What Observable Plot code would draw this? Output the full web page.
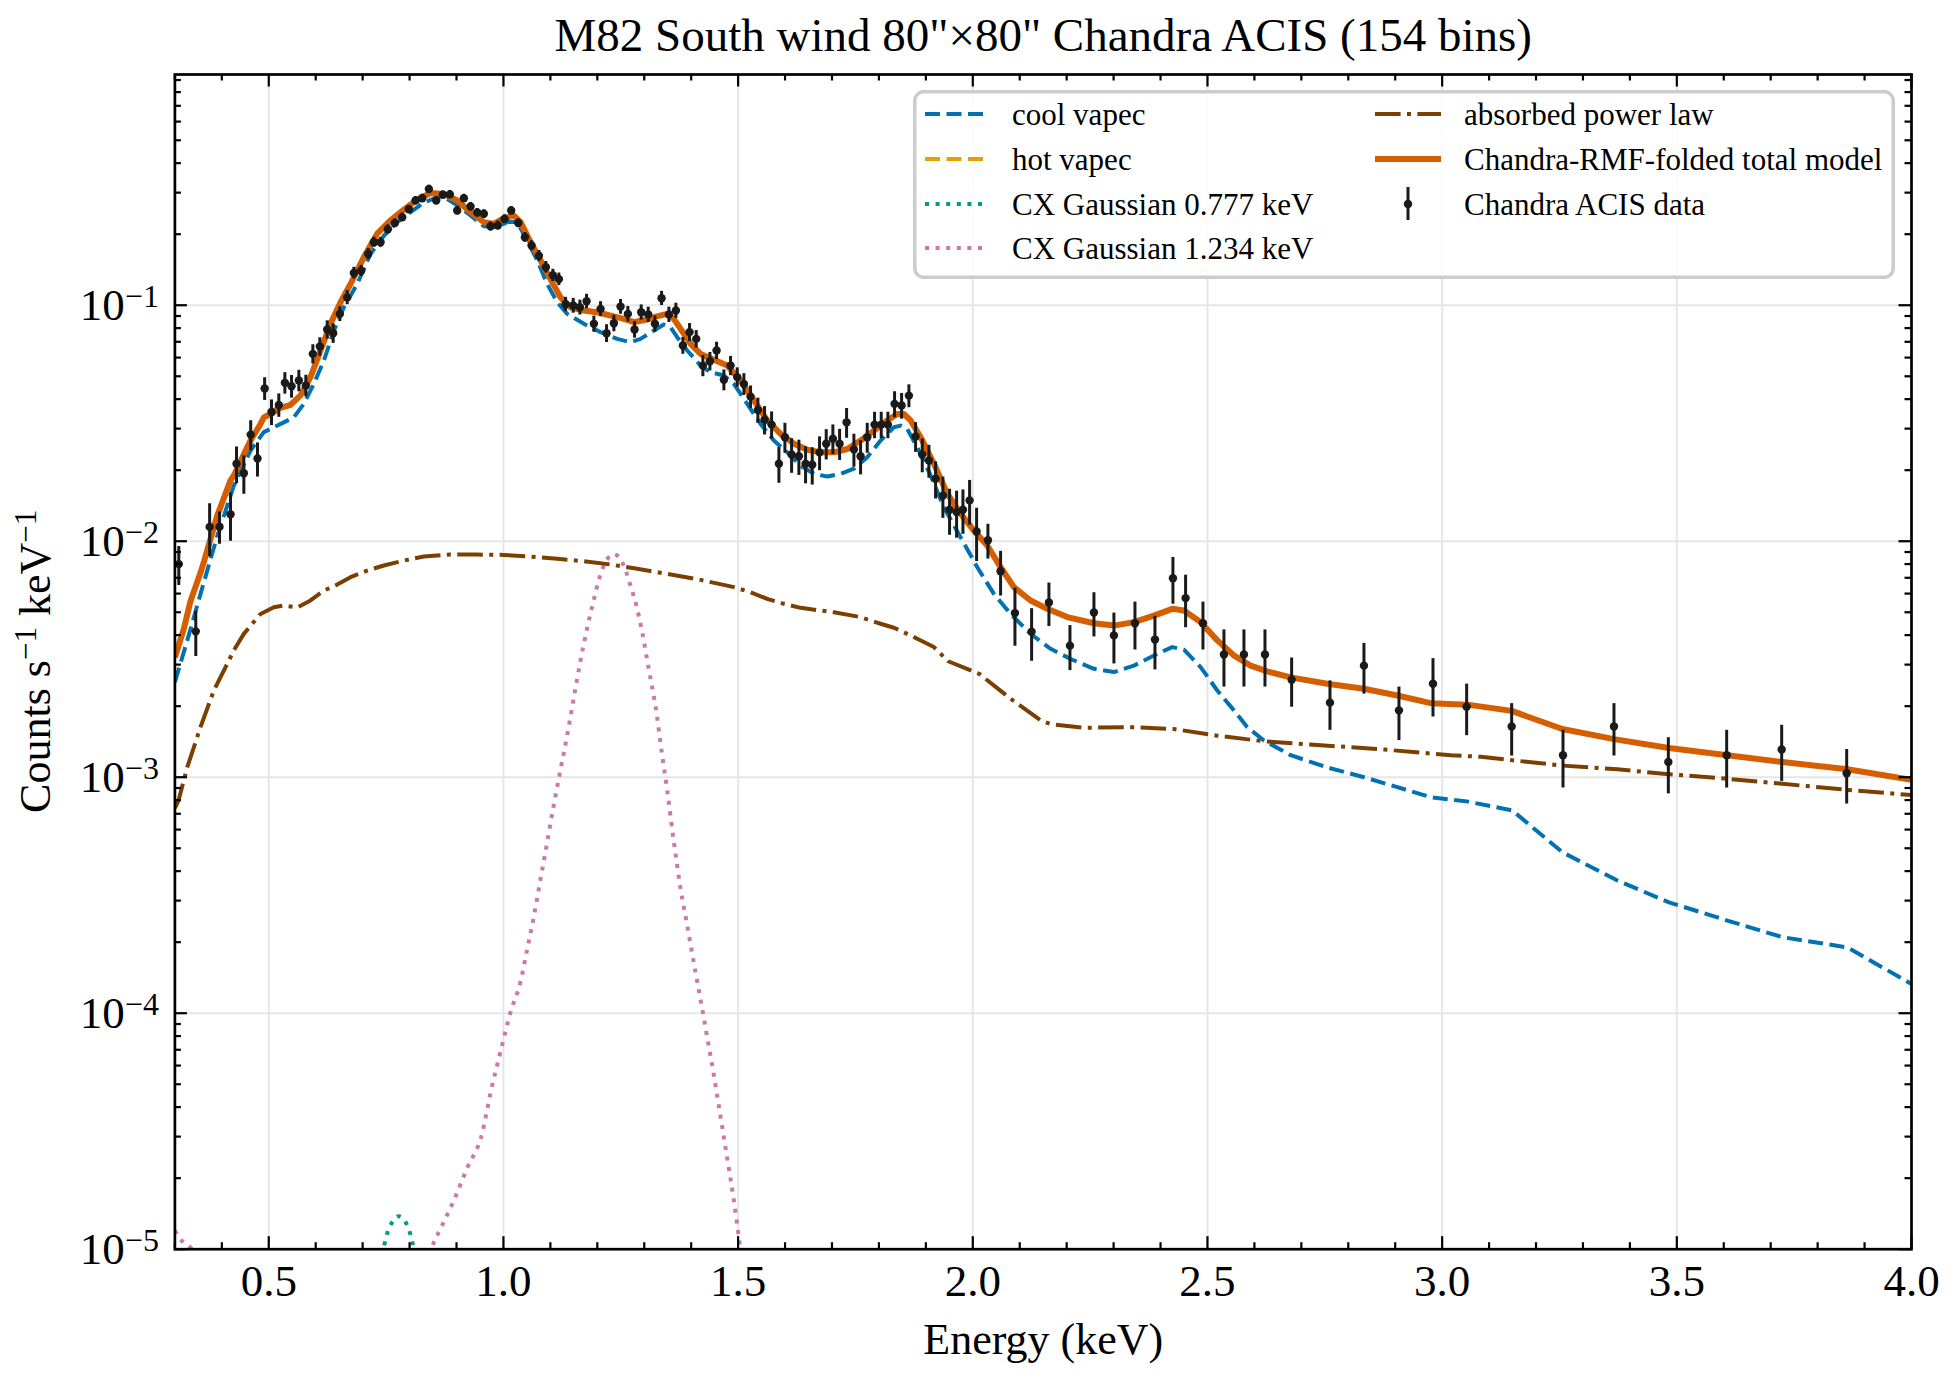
<!DOCTYPE html>
<html>
<head>
<meta charset="utf-8">
<script src="https://cdn.jsdelivr.net/npm/d3@7"></script>
<script src="https://cdn.jsdelivr.net/npm/@observablehq/plot@0.6"></script>
<style>
  html, body { margin: 0; padding: 0; background: #fff; }
  #chart { width: 1955px; height: 1380px; }
  #chart svg { display: block; }
</style>
</head>
<body>
<div id="chart"></div>
<script>
// ---------------- spectrum: grouped Chandra ACIS bins ----------------
const binEnergy = [
  0.3083,0.3445,0.3740,0.3950,0.4185,0.4313,0.4469,0.4615,0.4760,0.4912,
  0.5058,0.5214,0.5343,0.5485,0.5641,0.5790,0.5939,0.6088,0.6245,0.6372,
  0.6514,0.6671,0.6813,0.6969,0.7118,0.7239,0.7381,0.7537,0.7686,0.7843,
  0.7985,0.8127,0.8269,0.8411,0.8567,0.8709,0.8858,0.9015,0.9157,0.9299,
  0.9441,0.9583,0.9725,0.9881,1.0023,1.0165,1.0315,1.0457,1.0599,1.0755,
  1.0904,1.1053,1.1181,1.1323,1.1486,1.1629,1.1771,1.1927,1.2069,1.2197,
  1.2353,1.2495,1.2651,1.2793,1.2935,1.3085,1.3227,1.3369,1.3525,1.3674,
  1.3823,1.3965,1.4107,1.4249,1.4399,1.4541,1.4697,1.4839,1.4981,1.5123,
  1.5265,1.5421,1.5563,1.5713,1.5869,1.5997,1.6139,1.6295,1.6437,1.6579,
  1.6735,1.6877,1.7019,1.7162,1.7311,1.7467,1.7609,1.7751,1.7907,1.8049,
  1.8191,1.8333,1.8483,1.8639,1.8781,1.8923,1.9065,1.9207,1.9363,1.9505,
  1.9655,1.9790,1.9932,2.0081,2.0322,2.0592,2.0898,2.1253,2.1622,2.2070,
  2.2581,2.3007,2.3455,2.3881,2.4264,2.4534,2.4904,2.5351,2.5777,2.6225,
  2.6793,2.7610,2.8334,2.9080,2.9805,3.0522,3.1481,3.2575,3.3661,3.4819,
  3.6062,3.7234,3.8619
];
const binRate = [
  0.0080,0.00415,0.0115,0.0115,0.0130,0.0213,0.0194,0.0283,0.0224,0.0444,
  0.0353,0.0378,0.0469,0.0454,0.0480,0.0457,0.0622,0.0668,0.0789,0.0761,
  0.0919,0.108,0.137,0.140,0.165,0.185,0.185,0.210,0.223,0.236,
  0.255,0.278,0.284,0.311,0.278,0.294,0.295,0.252,0.284,0.262,
  0.247,0.244,0.216,0.218,0.232,0.252,0.223,0.194,0.179,0.162,
  0.145,0.134,0.129,0.101,0.0997,0.098,0.104,0.0834,0.0965,0.0761,
  0.0839,0.0987,0.0919,0.0789,0.0934,0.0913,0.0834,0.1071,0.0913,0.0950,
  0.0675,0.0769,0.0720,0.0555,0.0579,0.0643,0.0483,0.0555,0.0496,0.0464,
  0.0410,0.0360,0.0327,0.0312,0.0213,0.0276,0.0233,0.0229,0.0213,0.0211,
  0.0238,0.0259,0.0272,0.0259,0.0319,0.0245,0.0229,0.0276,0.0312,0.0312,
  0.0312,0.0382,0.0376,0.0414,0.0278,0.0233,0.0220,0.0184,0.0156,0.0136,
  0.0133,0.0136,0.0149,0.0110,0.0101,0.00746,0.00496,0.00414,0.00550,0.00361,
  0.00499,0.00399,0.00449,0.00383,0.00697,0.00574,0.00449,0.00331,0.00331,0.00331,
  0.00259,0.00207,0.00297,0.00192,0.00249,0.00199,0.00164,0.00124,0.00164,0.00116,
  0.00124,0.00131,0.00104
];
const binError = [
  0.0015,0.0009,0.0029,0.0018,0.0030,0.0038,0.0036,0.0041,0.0037,0.0049,
  0.0044,0.0043,0.0049,0.0050,0.0050,0.0048,0.0058,0.0060,0.0070,0.0072,
  0.0066,0.0074,0.0078,0.0075,0.0089,0.0090,0.0088,0.0092,0.0095,0.0097,
  0.0103,0.0108,0.0110,0.0115,0.0108,0.0112,0.0112,0.0104,0.0110,0.0106,
  0.0102,0.0101,0.0095,0.0095,0.0098,0.0102,0.0096,0.0092,0.0088,0.0086,
  0.0082,0.0080,0.0079,0.0070,0.0072,0.0071,0.0073,0.0066,0.0070,0.0066,
  0.0067,0.0071,0.0069,0.0064,0.0069,0.0068,0.0065,0.0074,0.0068,0.0070,
  0.0055,0.0067,0.0061,0.0057,0.0052,0.0054,0.0049,0.0052,0.0047,0.0049,
  0.0045,0.0044,0.0045,0.0041,0.0037,0.0040,0.0039,0.0039,0.0038,0.0038,
  0.0039,0.0038,0.0039,0.0039,0.0046,0.0039,0.0038,0.0040,0.0040,0.0040,
  0.0040,0.0048,0.0047,0.0046,0.0040,0.0038,0.0035,0.0033,0.0031,0.0030,
  0.0030,0.0029,0.0032,0.0028,0.0017,0.0016,0.00137,0.00104,0.00115,0.00078,
  0.00106,0.00097,0.00103,0.00098,0.00156,0.00144,0.00103,0.00090,0.00090,0.00090,
  0.00061,0.00049,0.00072,0.00049,0.00069,0.00049,0.00041,0.00034,0.00041,0.00031,
  0.00034,0.00035,0.00027
];

// ---------------- model components (counts s^-1 keV^-1) ----------------
const totalEnergy = [
  0.300,0.319,0.333,0.355,0.362,0.390,0.4185,0.4256,0.454,0.4611,
  0.4824,0.4895,0.5108,0.5179,0.5463,0.5676,0.5889,0.6103,0.6316,0.6529,
  0.6742,0.7026,0.7310,0.7594,0.7878,0.8162,0.8447,0.8731,0.9015,0.9299,
  0.9583,0.9796,1.0009,1.0222,1.0364,1.0577,1.0790,1.1003,1.1216,1.1430,
  1.1714,1.1998,1.2282,1.2566,1.2779,1.3063,1.3205,1.3489,1.3631,1.3774,
  1.3987,1.4200,1.4484,1.4768,1.5052,1.5336,1.5620,1.5904,1.6189,1.6473,
  1.6757,1.7041,1.7325,1.7609,1.7893,1.8177,1.8390,1.8532,1.8675,1.8888,
  1.9172,1.9456,1.9740,2.0024,2.0308,2.0592,2.0876,2.1231,2.1587,2.2013,
  2.2581,2.3007,2.3433,2.3859,2.4250,2.4499,2.4854,2.5209,2.5564,2.5919,
  2.6274,2.6772,2.7553,2.8334,2.9044,2.9755,3.0536,3.1481,3.2561,3.3662,
  3.4833,3.6077,3.7249,3.8634,4.0
];
const totalRate = [
  0.00322,0.00425,0.00555,0.00740,0.00820,0.0128,0.0181,0.0190,0.0250,0.0267,
  0.0314,0.0335,0.0352,0.0364,0.0378,0.0415,0.0496,0.0643,0.0834,0.103,
  0.123,0.160,0.201,0.229,0.254,0.280,0.299,0.296,0.278,0.248,
  0.225,0.221,0.234,0.240,0.225,0.185,0.155,0.129,0.108,0.098,
  0.095,0.0934,0.0904,0.0876,0.0848,0.0870,0.0890,0.0919,0.0876,0.0794,
  0.0686,0.0622,0.0587,0.0555,0.0480,0.0395,0.0325,0.0285,0.0259,0.0244,
  0.0238,0.0238,0.0246,0.0267,0.0294,0.0325,0.0346,0.0346,0.0325,0.0276,
  0.0213,0.0159,0.0131,0.0111,0.00959,0.00776,0.00639,0.00561,0.00517,0.00477,
  0.00449,0.00439,0.00454,0.00484,0.00517,0.00509,0.00454,0.00380,0.00328,0.00297,
  0.00281,0.00265,0.00249,0.00237,0.00222,0.00206,0.00203,0.00191,0.00160,0.00145,
  0.00133,0.00124,0.00116,0.00108,0.000975
];

const coolEnergy = [
  0.300,0.3262,0.3546,0.3901,0.4256,0.4611,0.4895,0.5108,0.5321,0.5534,
  0.5747,0.5960,0.6174,0.6387,0.6600,0.6884,0.7168,0.7452,0.7736,0.8020,
  0.8304,0.8588,0.8801,0.9015,0.9299,0.9583,0.9867,1.0080,1.0293,1.0506,
  1.0719,1.0932,1.1146,1.1359,1.1714,1.2069,1.2424,1.2708,1.2921,1.3205,
  1.3418,1.3560,1.3702,1.3916,1.4200,1.4413,1.4697,1.4910,1.5194,1.5478,
  1.5762,1.6046,1.6331,1.6615,1.6899,1.7183,1.7467,1.7751,1.8035,1.8319,
  1.8461,1.8603,1.8817,1.9101,1.9385,1.9740,2.0095,2.0450,2.0805,2.1231,
  2.1658,2.2084,2.2581,2.3007,2.3433,2.3859,2.4250,2.4499,2.4854,2.5209,
  2.5564,2.5848,2.6203,2.6772,2.7553,2.8334,2.9044,2.9755,3.0522,3.1495,
  3.2561,3.3733,3.4833,3.6077,3.7249,3.8634,4.0
];
const coolRate = [
  0.00253,0.00379,0.00598,0.0105,0.0172,0.0242,0.0290,0.0304,0.0319,0.0335,
  0.0382,0.0464,0.0583,0.0781,0.0981,0.123,0.165,0.197,0.225,0.248,
  0.272,0.287,0.282,0.265,0.240,0.216,0.214,0.225,0.225,0.188,
  0.155,0.123,0.103,0.0919,0.0834,0.0769,0.0720,0.0697,0.0720,0.0781,
  0.0828,0.0807,0.0732,0.0643,0.0555,0.0520,0.0504,0.0464,0.0382,0.0314,
  0.0267,0.0238,0.0209,0.0193,0.0188,0.0193,0.0203,0.0227,0.0267,0.0304,
  0.0309,0.0299,0.0250,0.0190,0.0139,0.0104,0.00776,0.00598,0.00492,0.00405,
  0.00350,0.00317,0.00288,0.00279,0.00297,0.00328,0.00356,0.00347,0.00293,0.00233,
  0.00192,0.00163,0.00143,0.00124,0.00110,0.00100,0.000908,0.000823,0.000790,0.000723,
  0.000481,0.000365,0.000295,0.000247,0.000210,0.000190,0.000133
];

const powerEnergy = [
  0.300,0.308,0.3262,0.3545,0.383,0.4114,0.4256,0.4468,0.4824,0.5108,
  0.5321,0.5605,0.5889,0.6174,0.6458,0.6742,0.7097,0.7452,0.7878,0.8304,
  0.8873,0.9441,1.0009,1.0577,1.1146,1.1714,1.2282,1.2850,1.3489,1.4200,
  1.4910,1.5265,1.5620,1.5975,1.6331,1.7041,1.7609,1.8035,1.8319,1.8461,
  1.8817,1.9172,1.9476,2.014,2.0805,2.1466,2.1658,2.2368,2.3433,2.4286,
  2.5209,2.6203,2.7340,2.8760,3.0181,3.0820,3.1495,3.2561,3.3733,3.4833,
  3.6077,3.7249,3.8634,4.0
];
const powerRate = [
  0.00074,0.00080,0.00110,0.00163,0.00233,0.00302,0.00345,0.00405,0.00492,0.00525,
  0.00534,0.00524,0.00561,0.00618,0.00655,0.00704,0.00751,0.00789,0.00828,0.00861,
  0.00878,0.00878,0.00875,0.00861,0.00842,0.00823,0.00797,0.00764,0.00727,0.00686,
  0.00639,0.00608,0.00570,0.00543,0.00522,0.00500,0.00477,0.00447,0.00430,0.00418,
  0.00386,0.00356,0.00310,0.00274,0.00215,0.00173,0.00168,0.00162,0.00163,0.00160,
  0.00150,0.00142,0.00137,0.00131,0.00124,0.00122,0.00118,0.00112,0.00108,0.00103,
  0.000985,0.000938,0.000884,0.000840
];

const cx777Energy = [0.735,0.744,0.753,0.764,0.777,0.7845,0.7984,0.8056,0.812];
const cx777Rate = [8.5e-6,1.0e-5,1.18e-5,1.31e-5,1.38e-5,1.36e-5,1.21e-5,1.08e-5,9.0e-6];

const cx1234Energy = [
  0.300,0.309,0.336,0.350,0.840,0.8483,0.866,0.8943,0.9228,0.9548,
  0.9725,0.9938,1.0151,1.0364,1.0507,1.0648,1.079,1.0933,1.1074,1.1217,
  1.1359,1.150,1.1643,1.1785,1.1926,1.2054,1.2353,1.2531,1.2708,1.285,
  1.2957,1.3098,1.3241,1.3384,1.349,1.3631,1.3773,1.3916,1.4057,1.420,
  1.4342,1.4482,1.4626,1.4769,1.4909,1.5016,1.510
];
const cx1234Rate = [
  1.2e-5,1.12e-5,1.0e-5,9.0e-6,8.8e-6,1.02e-5,1.22e-5,1.61e-5,2.21e-5,3.11e-5,
  4.6e-5,6.88e-5,1.01e-4,1.36e-4,1.87e-4,2.57e-4,3.70e-4,5.32e-4,7.66e-4,1.08e-3,
  1.51e-3,2.18e-3,3.13e-3,4.30e-3,5.65e-3,7.10e-3,8.82e-3,8.13e-3,6.48e-3,5.16e-3,
  4.11e-3,2.86e-3,1.99e-3,1.23e-3,8.77e-4,5.32e-4,3.38e-4,2.35e-4,1.63e-4,1.14e-4,
  7.89e-5,5.48e-5,3.64e-5,2.42e-5,1.61e-5,1.12e-5,8.5e-6
];

// ---------------- axes and labels ----------------
const xMajorTicks = [0.5, 1.0, 1.5, 2.0, 2.5, 3.0, 3.5, 4.0];
const yMajorTicks = [1e-5, 1e-4, 1e-3, 1e-2, 1e-1];
const titleText = 'M82 South wind 80"\u00d780" Chandra ACIS (154 bins)';
const xLabelText = "Energy (keV)";
const yLabelParts = ["Counts s", "\u22121", "\u00a0keV", "\u22121"];
const seriesNames = [
  "cool vapec", "hot vapec", "CX Gaussian 0.777 keV", "CX Gaussian 1.234 keV",
  "absorbed power law", "Chandra-RMF-folded total model", "Chandra ACIS data"
];

// ---------------- styling ----------------
const SERIF = "'Liberation Serif', 'Times New Roman', 'DejaVu Serif', serif";
const COLORS = {
  cool: "#0072B2", hot: "#E69F00", cx777: "#009E73", cx1234: "#CC79A7",
  power: "#7B3F00", total: "#D55E00", data: "#1a1a1a", grid: "#e6e6e6"
};
const DASH = {dashed: "15,6.5", dotted: "4,6.6", dashdot: "25.6,6.4,4,6.4"};

const W = 1955, H = 1380;
const M = {top: 74, right: 44, bottom: 131.3, left: 174.4};
const frameW = W - M.left - M.right;
const frameH = H - M.top - M.bottom;
const MAJOR = 12.5, MINOR = 6.5;

// tables for the marks
const bins = binEnergy.map((e, i) => ({energy: e, rate: binRate[i], err: binError[i]}));
const curve = (E, R) => E.map((e, i) => ({energy: e, rate: R[i]}));
const total = curve(totalEnergy, totalRate);
const cool = curve(coolEnergy, coolRate);
const power = curve(powerEnergy, powerRate);
const cx777 = curve(cx777Energy, cx777Rate);
const cx1234 = curve(cx1234Energy, cx1234Rate);

// minor tick positions
const xMinorTicks = d3.range(3, 41).map(i => i / 10).filter(v => Math.abs(v * 2 - Math.round(v * 2)) > 1e-9);
const yMinorTicks = [];
for (let k = -5; k <= -1; k++) for (let m = 2; m <= 9; m++) {
  const v = m * Math.pow(10, k);
  if (v <= 0.95) yMinorTicks.push(v);
}

const tickStyle = {stroke: "black", strokeWidth: 2.2};
const lineBase = {x: "energy", y: "rate", clip: true, strokeLinecap: "butt", strokeLinejoin: "round"};

const chart = Plot.plot({
  width: W,
  height: H,
  marginTop: M.top,
  marginRight: M.right,
  marginBottom: M.bottom,
  marginLeft: M.left,
  style: {fontFamily: SERIF, color: "black", background: "white", overflow: "visible"},
  x: {domain: [0.3, 4.0]},
  y: {type: "log", domain: [1e-5, 0.95]},
  marks: [
    // grid
    Plot.ruleX(xMajorTicks, {stroke: COLORS.grid, strokeWidth: 2}),
    Plot.ruleY(yMajorTicks, {stroke: COLORS.grid, strokeWidth: 2}),

    // model components
    Plot.line(cool, {...lineBase, stroke: COLORS.cool, strokeWidth: 4, strokeDasharray: DASH.dashed}),
    Plot.line(cx777, {...lineBase, stroke: COLORS.cx777, strokeWidth: 4, strokeDasharray: DASH.dotted, curve: "monotone-x"}),
    Plot.line(cx1234, {...lineBase, stroke: COLORS.cx1234, strokeWidth: 4, strokeDasharray: DASH.dotted, curve: "monotone-x"}),
    Plot.line(power, {...lineBase, stroke: COLORS.power, strokeWidth: 4, strokeDasharray: DASH.dashdot}),
    Plot.line(total, {...lineBase, stroke: COLORS.total, strokeWidth: 6}),

    // data with 1-sigma error bars
    Plot.ruleX(bins, {x: "energy", y1: d => d.rate - d.err, y2: d => d.rate + d.err, stroke: COLORS.data, strokeWidth: 3, clip: true}),
    Plot.dot(bins, {x: "energy", y: "rate", r: 4.2, fill: COLORS.data, stroke: null, clip: true}),

    // frame and inward ticks on all four sides
    Plot.frame({stroke: "black", strokeWidth: 2.7}),
    Plot.tickX(xMajorTicks, {...tickStyle, insetTop: frameH - MAJOR}),
    Plot.tickX(xMajorTicks, {...tickStyle, insetBottom: frameH - MAJOR}),
    Plot.tickX(xMinorTicks, {...tickStyle, insetTop: frameH - MINOR}),
    Plot.tickX(xMinorTicks, {...tickStyle, insetBottom: frameH - MINOR}),
    Plot.tickY(yMajorTicks, {...tickStyle, insetRight: frameW - MAJOR}),
    Plot.tickY(yMajorTicks, {...tickStyle, insetLeft: frameW - MAJOR}),
    Plot.tickY(yMinorTicks, {...tickStyle, insetRight: frameW - MINOR}),
    Plot.tickY(yMinorTicks, {...tickStyle, insetLeft: frameW - MINOR}),

    // tick labels
    Plot.axisX({ticks: xMajorTicks, tickSize: 0, tickPadding: 15, fontSize: 45, tickFormat: d => d.toFixed(1), label: null}),
    Plot.axisY({ticks: yMajorTicks, tickSize: 0, tickPadding: 16, fontSize: 45, tickFormat: d => "10^" + Math.round(Math.log10(d)), label: null}),

    // title and x label
    Plot.text([titleText], {text: d => d, frameAnchor: "top", dy: -24, lineAnchor: "bottom", fontSize: 47}),
    Plot.text([xLabelText], {text: d => d, frameAnchor: "bottom", dy: 104.3, lineAnchor: "bottom", fontSize: 44})
  ]
});

document.getElementById("chart").appendChild(chart);
const svg = d3.select(chart);

// powers of ten with raised exponents
svg.selectAll('g[aria-label="y-axis tick label"] text').each(function () {
  const exp = this.textContent.split("^")[1].replace("-", "\u2212");
  this.textContent = "";
  const t = d3.select(this);
  t.append("tspan").text("10");
  t.append("tspan").attr("dy", -13).attr("font-size", 32).text(exp);
});

// rotated y label with superscripts
const yl = svg.append("text")
  .attr("transform", `translate(50,${M.top + frameH / 2}) rotate(-90)`)
  .attr("text-anchor", "middle")
  .attr("font-family", SERIF)
  .attr("font-size", 44)
  .attr("fill", "black");
yl.append("tspan").text(yLabelParts[0]);
yl.append("tspan").attr("dy", -14).attr("font-size", 31).text(yLabelParts[1]);
yl.append("tspan").attr("dy", 14).text(yLabelParts[2]);
yl.append("tspan").attr("dy", -14).attr("font-size", 31).text(yLabelParts[3]);

// legend box, two columns
const lg = svg.append("g")
  .attr("font-family", SERIF).attr("font-size", 31)
  .attr("fill", "black").attr("text-anchor", "start");
lg.append("rect")
  .attr("x", 914.75).attr("y", 91.75).attr("width", 978.5).attr("height", 185.5)
  .attr("rx", 9).attr("fill", "white").attr("fill-opacity", 0.85)
  .attr("stroke", "#cccccc").attr("stroke-width", 3.5);

const rowY = [114, 159, 204, 248];
const legendEntries = [
  {col: 0, row: 0, name: seriesNames[0], stroke: COLORS.cool, width: 4, dash: DASH.dashed},
  {col: 0, row: 1, name: seriesNames[1], stroke: COLORS.hot, width: 4, dash: DASH.dashed},
  {col: 0, row: 2, name: seriesNames[2], stroke: COLORS.cx777, width: 4, dash: DASH.dotted},
  {col: 0, row: 3, name: seriesNames[3], stroke: COLORS.cx1234, width: 4, dash: DASH.dotted},
  {col: 1, row: 0, name: seriesNames[4], stroke: COLORS.power, width: 4, dash: DASH.dashdot},
  {col: 1, row: 1, name: seriesNames[5], stroke: COLORS.total, width: 6, dash: null},
  {col: 1, row: 2, name: seriesNames[6], errorbar: true}
];
const colHandle = [[925, 986], [1375, 1441]];
const colText = [1012, 1464];
for (const e of legendEntries) {
  const y = rowY[e.row];
  const [x0, x1] = colHandle[e.col];
  if (e.errorbar) {
    const cx = (x0 + x1) / 2;
    lg.append("line").attr("x1", cx).attr("x2", cx).attr("y1", y - 17).attr("y2", y + 16)
      .attr("stroke", COLORS.data).attr("stroke-width", 3);
    lg.append("circle").attr("cx", cx).attr("cy", y).attr("r", 4.2).attr("fill", COLORS.data);
  } else {
    const ln = lg.append("line").attr("x1", x0).attr("x2", x1).attr("y1", y).attr("y2", y)
      .attr("stroke", e.stroke).attr("stroke-width", e.width).attr("stroke-linecap", "butt");
    if (e.dash) ln.attr("stroke-dasharray", e.dash);
  }
  lg.append("text").attr("x", colText[e.col]).attr("y", y + 11).text(e.name);
}
</script>
</body>
</html>
